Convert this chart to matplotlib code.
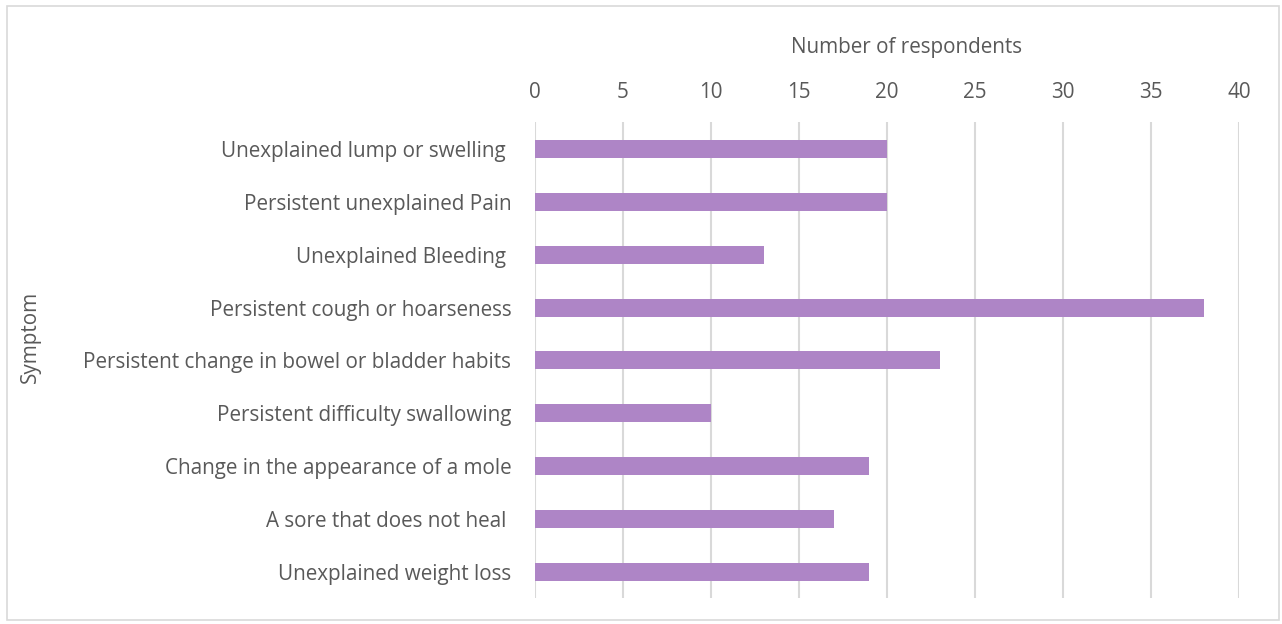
import matplotlib
matplotlib.use('Agg')
import matplotlib.pyplot as plt
from matplotlib.patches import Rectangle

plt.rcParams['font.family'] = ['Open Sans', 'DejaVu Sans']

# data, top to bottom as in the chart
symptoms = [
    'Unexplained lump or swelling ',
    'Persistent unexplained Pain',
    'Unexplained Bleeding ',
    'Persistent cough or hoarseness',
    'Persistent change in bowel or bladder habits',
    'Persistent difficulty swallowing',
    'Change in the appearance of a mole',
    'A sore that does not heal ',
    'Unexplained weight loss',
]
respondents = [20, 20, 13, 38, 23, 10, 19, 17, 19]
x_ticks = [0, 5, 10, 15, 20, 25, 30, 35, 40]

text_col = '#595959'
bar_col = '#AE85C6'
grid_col = '#D9D9D9'
fs = 14.9

fig = plt.figure(figsize=(12.82, 6.24), dpi=100)
ax = fig.add_axes([0.4173, 0.0409, 0.5491, 0.7628])

ypos = list(range(len(symptoms)))
ax.barh(ypos, respondents, height=0.34, color=bar_col, zorder=3)
ax.set_ylim(len(symptoms) - 0.5, -0.5)
ax.set_yticks(ypos)
ax.set_yticklabels(symptoms, fontsize=fs, color=text_col)

ax.set_xlim(0, 40)
ax.set_xticks(x_ticks)
ax.xaxis.tick_top()
ax.xaxis.set_label_position('top')
ax.tick_params(axis='x', labelsize=fs, colors=text_col, length=0, pad=14)
ax.tick_params(axis='y', length=0, pad=17)
ax.grid(axis='x', color=grid_col, lw=1.5, zorder=0)
for s in ax.spines.values():
    s.set_visible(False)

ax.set_xlabel('Number of respondents', fontsize=fs, color=text_col)
ax.xaxis.set_label_coords(0.528, 1.158)
ax.xaxis.label.set_va('center')
fig.text(0.024, 0.46, 'Symptom', rotation=90, fontsize=fs, color=text_col,
         ha='center', va='center')

# light border round the chart area
fig.add_artist(Rectangle((0.0055, 0.006), 0.9925, 0.984, transform=fig.transFigure,
                         fill=False, ec='#D9D9D9', lw=1.2))

fig.savefig('out.png', dpi=100)
